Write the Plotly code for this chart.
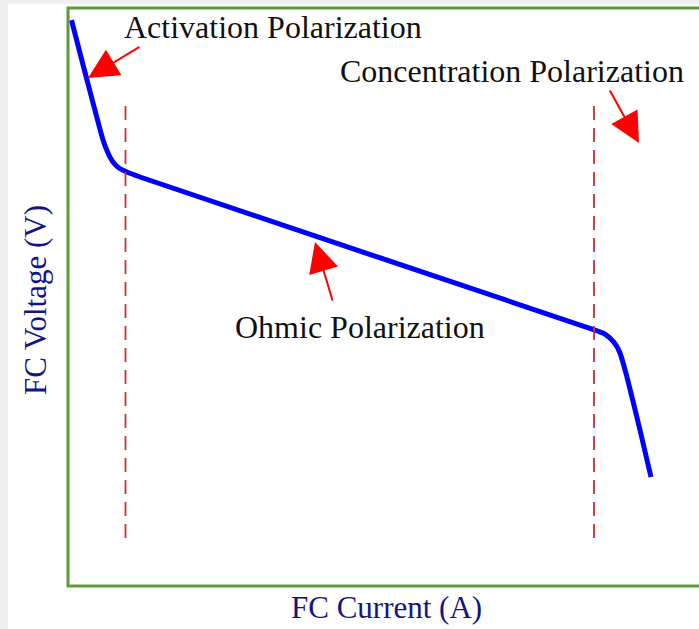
import plotly.graph_objects as go

# Polarization curve (arbitrary units, 0-100)
current = [0.55, 3.01, 5.55, 6.34, 7.13, 8.08, 9.35, 11.41, 83.52, 84.79, 85.90, 86.85, 87.48, 88.59, 90.65, 92.39]
voltage = [97.74, 87.33, 76.91, 74.65, 73.09, 72.05, 71.35, 70.49, 43.92, 43.40, 42.53, 41.32, 39.93, 35.76, 26.56, 18.40]

# Region boundaries (dashed lines)
boundary_x = [9.11, 83.36]
boundary_y = [7.81, 84.20]

# Annotation labels: text, text position, arrow tail, arrow head
labels = ["Activation Polarization", "Concentration Polarization", "Ohmic Polarization"]
label_x = [32.43, 70.36, 46.28]
label_y = [96.53, 88.89, 44.44]
tail_x = [11.57, 85.74, 42.00]
tail_y = [93.23, 85.76, 48.78]
head_x = [3.17, 90.49, 39.14]
head_y = [87.67, 76.39, 59.20]

FONT = "Liberation Serif"

fig = go.Figure()
fig.add_trace(go.Scatter(x=current, y=voltage, mode="lines",
                         line=dict(color="#0000ff", width=5, shape="spline", smoothing=0.4),
                         showlegend=False, hoverinfo="skip"))
for bx in boundary_x:
    fig.add_trace(go.Scatter(x=[bx, bx], y=boundary_y, mode="lines",
                             line=dict(color="#cf2f2f", width=1.8, dash="14px,8px"),
                             showlegend=False, hoverinfo="skip"))

annotations = []
for t, lx, ly in zip(labels, label_x, label_y):
    annotations.append(dict(x=lx, y=ly, xref="x", yref="y", text=t, showarrow=False,
                            font=dict(family=FONT, size=32, color="#111111"),
                            xanchor="center", yanchor="middle"))
for txx, tyy, hx, hy in zip(tail_x, tail_y, head_x, head_y):
    annotations.append(dict(x=hx, y=hy, xref="x", yref="y", ax=txx, ay=tyy,
                            axref="x", ayref="y", text="", showarrow=True,
                            arrowhead=2, arrowsize=3, arrowwidth=2, arrowcolor="#ff0000",
                            standoff=0, startstandoff=0))
annotations.append(dict(x=0.5055, y=-0.038, xref="paper", yref="paper", text="FC Current (A)",
                        showarrow=False, font=dict(family=FONT, size=31, color="#141487"),
                        xanchor="center", yanchor="middle"))
annotations.append(dict(x=-0.0523, y=0.4948, xref="paper", yref="paper", text="FC Voltage (V)",
                        showarrow=False, textangle=-90, font=dict(family=FONT, size=31, color="#141487"),
                        xanchor="center", yanchor="middle"))

shapes = [
    # light grey page edges
    dict(type="rect", xref="paper", yref="paper", x0=-0.11, x1=-0.095, y0=-0.1, y1=1.02,
         fillcolor="#efefef", line=dict(width=0), layer="below"),
    dict(type="rect", xref="paper", yref="paper", x0=-0.11, x1=1.05, y0=1.0075, y1=1.02,
         fillcolor="#efefef", line=dict(width=0), layer="below"),
    # green frame
    dict(type="rect", xref="paper", yref="paper", x0=0, x1=1.05, y0=0, y1=1,
         line=dict(color="#5c9b35", width=3), fillcolor="rgba(0,0,0,0)"),
]

fig.update_layout(
    width=699, height=629,
    margin=dict(l=68, r=0, t=8, b=43),
    paper_bgcolor="white", plot_bgcolor="white",
    xaxis=dict(range=[0, 100], visible=False, fixedrange=True),
    yaxis=dict(range=[-0.52, 99.83], visible=False, fixedrange=True),
    annotations=annotations, shapes=shapes,
)

fig.write_html("out.html", config={"displayModeBar": False},
               post_script="document.documentElement.style.overflow='hidden';"
                           "document.body.style.margin='0';document.body.style.overflow='hidden';")
